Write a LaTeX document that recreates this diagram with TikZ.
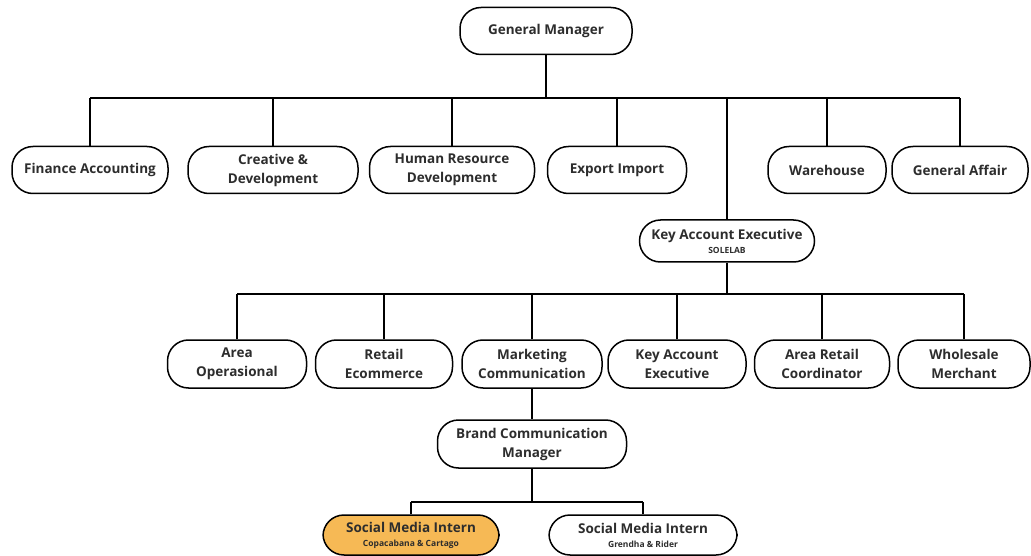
\documentclass[tikz,border=0pt]{standalone}
\usepackage{fontspec}
\setmainfont{Open Sans}
\usepackage{tikz}
\usetikzlibrary{calc}

\definecolor{inkgray}{RGB}{45,45,45}
\definecolor{internorange}{RGB}{246,185,85}

\begin{document}
\begin{tikzpicture}[x=1pt,y=1pt,yscale=-1,xscale=1,
  post/.style={draw=black, line width=1.5pt, rounded corners=21pt, fill=white,
    align=center, inner sep=0pt, minimum height=47pt, text=inkgray,
    font=\fontsize{13.5}{19}\selectfont\bfseries},
  link/.style={draw=black, line width=1.5pt}]
\useasboundingbox (0,0) rectangle (1031,556);

%Shape: Rounded Rect [id:gm] 
\node[post, minimum width=172pt] (gm) at (546,31) {General Manager};

%Shape: Rounded Rect [id:row1] 
\node[post, minimum width=156pt] (fin) at (90,170) {Finance Accounting};
\node[post, minimum width=170pt] (cre) at (273,170) {Creative \&\\Development};
\node[post, minimum width=165pt] (hrd) at (452,170) {Human Resource\\Development};
\node[post, minimum width=139pt] (exp) at (617,170) {Export Import};
\node[post, minimum width=118pt] (war) at (827,170) {Warehouse};
\node[post, minimum width=136pt] (gaf) at (960,170) {General Affair};

%Shape: Rounded Rect [id:kae] 
\node[post, minimum width=175pt, minimum height=42pt] (kae) at (727,241)
  {Key Account Executive\\[-5pt]{\fontsize{8.5}{10}\selectfont SOLELAB}};

%Shape: Rounded Rect [id:row2] 
\node[post, minimum width=139pt, minimum height=48pt] (aop) at (237,364) {Area\\Operasional};
\node[post, minimum width=137pt, minimum height=48pt] (rec) at (384,364) {Retail\\Ecommerce};
\node[post, minimum width=140pt, minimum height=48pt] (mkc) at (532,364) {Marketing\\Communication};
\node[post, minimum width=138pt, minimum height=48pt] (kax) at (677,364) {Key Account\\Executive};
\node[post, minimum width=135pt, minimum height=48pt] (arc) at (822,364) {Area Retail\\Coordinator};
\node[post, minimum width=132pt, minimum height=48pt] (whm) at (964,364) {Wholesale\\Merchant};

%Shape: Rounded Rect [id:bcm] 
\node[post, minimum width=189pt, minimum height=48pt] (bcm) at (532,444) {Brand Communication\\Manager};

%Shape: Rounded Rect [id:interns] 
\node[post, fill=internorange, minimum width=176pt, minimum height=40pt] (smc) at (411,535)
  {Social Media Intern\\[-5pt]{\fontsize{8.5}{10}\selectfont Copacabana \& Cartago}};
\node[post, minimum width=188pt, minimum height=40pt] (smg) at (643,535)
  {Social Media Intern\\[-5pt]{\fontsize{8.5}{10}\selectfont Grendha \& Rider}};

%Straight Lines [id:bus1] 
\coordinate (bus1) at (546,98);
\draw[link] (gm.south) -- (bus1);
\draw[link] (fin.north |- bus1) -- (gaf.north |- bus1);
\foreach \n in {fin,cre,hrd,exp,war,gaf,kae}
  \draw[link] (\n.north) -- (\n.north |- bus1);

%Straight Lines [id:bus2] 
\coordinate (bus2) at (727,294);
\draw[link] (kae.south) -- (bus2);
\draw[link] (aop.north |- bus2) -- (whm.north |- bus2);
\foreach \n in {aop,rec,mkc,kax,arc,whm}
  \draw[link] (\n.north) -- (\n.north |- bus2);

%Straight Lines [id:bus3] 
\coordinate (bus3) at (532,502);
\draw[link] (mkc.south) -- (bcm.north);
\draw[link] (bcm.south) -- (bus3);
\draw[link] (smc.north |- bus3) -- (smg.north |- bus3);
\foreach \n in {smc,smg}
  \draw[link] (\n.north) -- (\n.north |- bus3);
\end{tikzpicture}
\end{document}
